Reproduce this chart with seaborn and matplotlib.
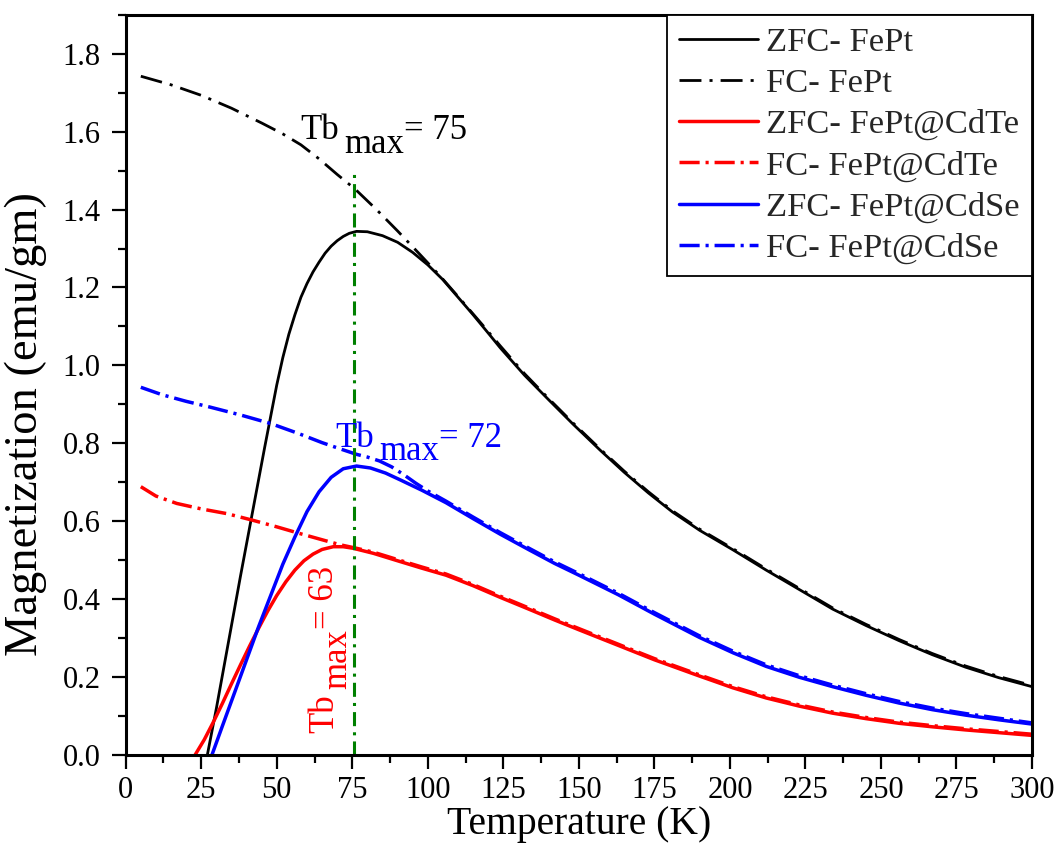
import numpy as np
import pandas as pd
import matplotlib
matplotlib.use("Agg")
import matplotlib.pyplot as plt
from matplotlib.ticker import MultipleLocator, FormatStrFormatter
import seaborn as sns

# ---------------- data ----------------
T_zfc_fept = [27, 30, 34, 38, 42, 46, 50, 52, 54, 56, 58, 60, 62, 64, 66, 68, 70, 72, 74, 76.4, 80, 85, 90,
              95, 100, 105, 110, 115, 120, 124, 132, 140, 148, 157, 165, 173, 181, 190, 201, 212, 223, 234,
              245, 256, 267, 278, 289, 300]
M_zfc_fept = [0.0, 0.12, 0.29, 0.46, 0.625, 0.79, 0.95, 1.02, 1.08, 1.13, 1.175, 1.21, 1.24, 1.265, 1.288,
              1.306, 1.32, 1.331, 1.339, 1.344, 1.343, 1.333, 1.316, 1.29, 1.258, 1.22, 1.175, 1.13, 1.083,
              1.045, 0.975, 0.912, 0.85, 0.783, 0.726, 0.673, 0.624, 0.577, 0.527, 0.475, 0.425, 0.375, 0.333,
              0.294, 0.258, 0.226, 0.199, 0.176]

T_fc_fept = [5, 15, 25, 35, 45, 52, 58, 64, 70, 76, 83, 90, 97, 104, 111, 118, 124, 132, 140, 148, 157, 165,
             173, 181, 190, 201, 212, 223, 234, 245, 256, 267, 278, 289, 300]
M_fc_fept = [1.742, 1.72, 1.693, 1.66, 1.622, 1.594, 1.566, 1.53, 1.49, 1.452, 1.40, 1.345, 1.288, 1.23,
             1.168, 1.105, 1.05, 0.979, 0.915, 0.853, 0.786, 0.729, 0.676, 0.627, 0.580, 0.530, 0.478, 0.428,
             0.378, 0.336, 0.297, 0.261, 0.229, 0.202, 0.179]

T_zfc_cdte = [22.9, 26, 29, 32, 35, 38, 41, 44, 47, 50, 53, 56, 59, 62, 65, 68.7, 72, 75.3, 82, 90.8, 98, 106,
              115, 124, 134, 142, 150, 163, 175, 190, 201, 212, 223, 234, 245, 256, 267, 278, 289, 300]
M_zfc_cdte = [0.0, 0.04, 0.085, 0.133, 0.183, 0.232, 0.28, 0.326, 0.37, 0.41, 0.445, 0.475, 0.499, 0.516,
              0.528, 0.535, 0.535, 0.531, 0.518, 0.497, 0.48, 0.462, 0.435, 0.405, 0.373, 0.347, 0.322, 0.282,
              0.245, 0.203, 0.173, 0.147, 0.126, 0.108, 0.094, 0.082, 0.073, 0.065, 0.058, 0.051]

T_fc_cdte = [5, 10, 16.9, 25, 33.4, 42, 50, 58, 65.4, 71, 76.4, 82, 90.8, 98, 106, 115, 124, 134, 142, 150, 163,
             175, 190, 201, 212, 223, 234, 245, 256, 267, 278, 289, 300]
M_fc_cdte = [0.689, 0.665, 0.646, 0.632, 0.620, 0.603, 0.586, 0.568, 0.552, 0.540, 0.531, 0.521, 0.500, 0.483,
             0.465, 0.438, 0.408, 0.376, 0.350, 0.325, 0.285, 0.248, 0.206, 0.176, 0.150, 0.129, 0.111, 0.097,
             0.085, 0.076, 0.068, 0.061, 0.054]

T_zfc_cdse = [28.5, 32, 36, 40, 44, 48, 52, 56, 60, 64, 68, 72, 76.4, 81, 86, 91, 98, 106, 115, 124, 134,
              142, 150, 163, 175, 190, 201, 212, 223, 234, 245, 256, 267, 278, 289, 300]
M_zfc_cdse = [0.0, 0.075, 0.16, 0.245, 0.33, 0.41, 0.49, 0.56, 0.625, 0.676, 0.713, 0.735, 0.742, 0.737, 0.724,
              0.706, 0.68, 0.648, 0.607, 0.567, 0.525, 0.492, 0.462, 0.412, 0.362, 0.302, 0.263, 0.228, 0.200,
              0.176, 0.154, 0.134, 0.117, 0.103, 0.091, 0.080]

T_fc_cdse = [5, 12, 20, 28, 38, 48, 57, 65, 71, 76.4, 80, 84, 88, 92, 96, 100, 106, 115, 124, 134, 142, 150,
             163, 175, 190, 201, 212, 223, 234, 245, 256, 267, 278, 289, 300]
M_fc_cdse = [0.944, 0.925, 0.908, 0.893, 0.873, 0.851, 0.826, 0.802, 0.786, 0.772, 0.765, 0.755, 0.740, 0.720,
             0.698, 0.678, 0.652, 0.611, 0.571, 0.529, 0.496, 0.466, 0.416, 0.366, 0.306, 0.267, 0.232, 0.204,
             0.180, 0.158, 0.138, 0.121, 0.107, 0.095, 0.083]

labels = ["ZFC- FePt", "FC- FePt", "ZFC- FePt@CdTe", "FC- FePt@CdTe", "ZFC- FePt@CdSe", "FC- FePt@CdSe"]
tb_line_T = [75.5, 75.5]
tb_line_M = [0.0, 1.495]

x_ticks = [0, 25, 50, 75, 100, 125, 150, 175, 200, 225, 250, 275, 300]

# ---------------- style ----------------
sns.set_theme(style="ticks")
plt.rcParams["font.family"] = ["Liberation Serif", "DejaVu Serif"]
plt.rcParams["axes.linewidth"] = 2.2

fig = plt.figure(figsize=(10.6, 8.51), dpi=100, facecolor="white")
ax = fig.add_axes([0.1186, 0.1125, 0.855, 0.8703])
ax.set_facecolor("white")

dd_black = (0, (7.9, 2.9, 1.1, 2.9))
dd_col = (0, (5.8, 1.7, 0.9, 1.7))

series = [
    (T_zfc_fept, M_zfc_fept, "black", 2.0, "-", labels[0]),
    (T_fc_fept, M_fc_fept, "black", 2.0, dd_black, labels[1]),
    (T_zfc_cdte, M_zfc_cdte, "#ff0000", 2.5, "-", labels[2]),
    (T_fc_cdte, M_fc_cdte, "#ff0000", 2.5, dd_col, labels[3]),
    (T_zfc_cdse, M_zfc_cdse, "#0000ff", 2.5, "-", labels[4]),
    (T_fc_cdse, M_fc_cdse, "#0000ff", 2.5, dd_col, labels[5]),
]
for T, M, c, lw, ls, lab in series:
    df = pd.DataFrame({"T": T, "M": M})
    sns.lineplot(data=df, x="T", y="M", color=c, lw=lw, linestyle=ls, label=lab, ax=ax, sort=False)

# green reference line
ax.plot(tb_line_T, tb_line_M, color="#008000", lw=2.2, linestyle=(0, (4.6, 2.0, 1.0, 2.0)))

ax.set_xlim(0, 300)
ax.set_ylim(0, 1.9)
ax.set_xticks(x_ticks)
ax.xaxis.set_minor_locator(MultipleLocator(12.5))
ax.yaxis.set_major_locator(MultipleLocator(0.2))
ax.yaxis.set_minor_locator(MultipleLocator(0.1))
ax.yaxis.set_major_formatter(FormatStrFormatter("%.1f"))
ax.tick_params(which="major", direction="out", length=10, width=1.6, labelsize=22, color="black",
               labelcolor="black")
ax.tick_params(axis="x", which="major", pad=5)
ax.tick_params(axis="y", which="major", pad=8)
ax.tick_params(which="minor", direction="out", length=5.5, width=1.6, color="black")
for s in ax.spines.values():
    s.set_visible(True)
    s.set_color("black")
    s.set_linewidth(2.2)

ax.set_xlabel("Temperature (K)", fontsize=28.5, color="black", labelpad=1)
ax.set_ylabel("Magnetization (emu/gm)", fontsize=33.5, color="black")
ax.yaxis.set_label_coords(-0.087, 0.447)

leg = ax.legend(loc="upper right", borderaxespad=0, frameon=True, fancybox=False, edgecolor="black",
                framealpha=1, fontsize=24.8, handlelength=2.3, handletextpad=0.23, labelspacing=0.29,
                borderpad=0.35)
leg.get_frame().set_linewidth(1.3)


# ---------------- annotations Tb_max ----------------
def tb_label(x, y, value, color, rotated=False, fs=25, sub=9.5, gap=4):
    if not rotated:
        t1 = ax.text(x, y, "Tb", fontsize=fs, color=color, ha="left", va="baseline")
        t2 = ax.annotate("max", xy=(1, 0), xycoords=t1, xytext=(gap, -sub), textcoords="offset points",
                         fontsize=fs, color=color, ha="left", va="bottom")
        ax.annotate("= " + value, xy=(1, 0), xycoords=t2, xytext=(0, sub), textcoords="offset points",
                    fontsize=fs, color=color, ha="left", va="bottom")
    else:
        t1 = ax.text(x, y, "Tb", fontsize=fs, color=color, ha="left", va="baseline", rotation=90,
                     rotation_mode="anchor")
        t2 = ax.annotate("max", xy=(1, 1), xycoords=t1, xytext=(sub, gap), textcoords="offset points",
                         fontsize=fs, color=color, ha="left", va="bottom", rotation=90, rotation_mode="anchor")
        ax.annotate("= " + value, xy=(1, 1), xycoords=t2, xytext=(-sub, 0), textcoords="offset points",
                    fontsize=fs, color=color, ha="left", va="bottom", rotation=90, rotation_mode="anchor")


tb_label(57.7, 1.58, "75", "black")
tb_label(69.3, 0.791, "72", "#0000ff")
tb_label(68.7, 0.056, "63", "#ff0000", rotated=True)

fig.savefig("out.png", dpi=100, facecolor="white")
